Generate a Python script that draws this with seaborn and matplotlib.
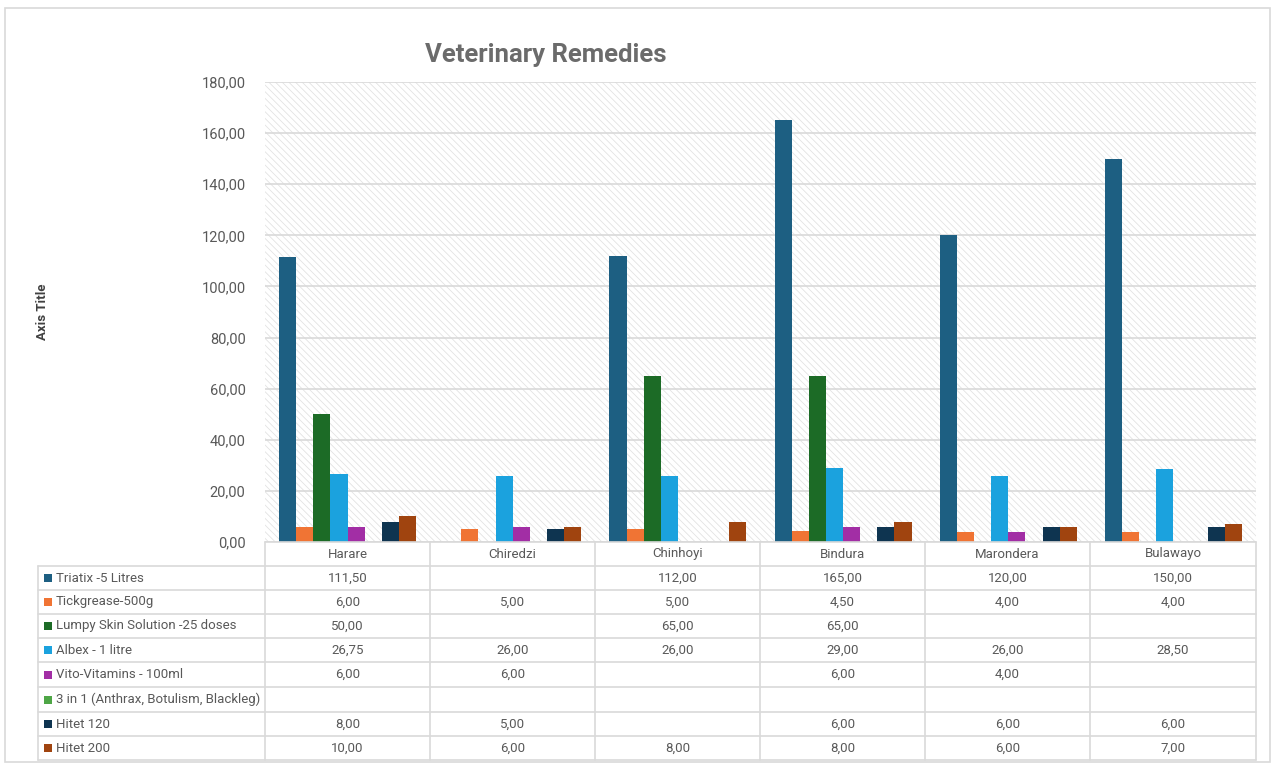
import numpy as np
import pandas as pd
import matplotlib
matplotlib.use("Agg")
import matplotlib.pyplot as plt
import seaborn as sns
from matplotlib.patches import Rectangle
from matplotlib.lines import Line2D
from matplotlib.ticker import FuncFormatter

# ---------------- data ----------------
categories = ["Harare", "Chiredzi", "Chinhoyi", "Bindura", "Marondera", "Bulawayo"]
series_names = [
    "Triatix -5 Litres",
    "Tickgrease-500g",
    "Lumpy Skin Solution -25 doses",
    "Albex - 1 litre",
    "Vito-Vitamins - 100ml",
    "3 in 1 (Anthrax, Botulism, Blackleg)",
    "Hitet 120",
    "Hitet 200",
]
triatix = [111.5, np.nan, 112.0, 165.0, 120.0, 150.0]
tickgrease = [6.0, 5.0, 5.0, 4.5, 4.0, 4.0]
lumpy = [50.0, np.nan, 65.0, 65.0, np.nan, np.nan]
albex = [26.75, 26.0, 26.0, 29.0, 26.0, 28.5]
vito = [6.0, 6.0, np.nan, 6.0, 4.0, np.nan]
three_in_one = [np.nan] * 6
hitet120 = [8.0, 5.0, np.nan, 6.0, 6.0, 6.0]
hitet200 = [10.0, 6.0, 8.0, 8.0, 6.0, 7.0]
all_values = [triatix, tickgrease, lumpy, albex, vito, three_in_one, hitet120, hitet200]
y_ticks = [0, 20, 40, 60, 80, 100, 120, 140, 160, 180]

colors = ["#1d5f82", "#f07434", "#1c6b26", "#1ba2de", "#a22ea5",
          "#4ea646", "#0e3450", "#a0440f"]

rows = []
for s, vals in zip(series_names, all_values):
    for c, v in zip(categories, vals):
        rows.append({"city": c, "series": s, "value": v})
df = pd.DataFrame(rows)

# ---------------- figure ----------------
sns.set_theme(style="white")
plt.rcParams["font.family"] = ["Liberation Sans Narrow", "Roboto", "DejaVu Sans"]
plt.rcParams["hatch.linewidth"] = 0.6
plt.rcParams["hatch.color"] = "#e3e3e3"

W, H = 1274, 764
fig = plt.figure(figsize=(W / 100, H / 100), dpi=100)
fig.patch.set_facecolor("white")

def fx(px):
    return px / W

def fy(py):
    return 1 - py / H

ax_l, ax_r, ax_t, ax_b = 265, 1256, 82, 542
ax = fig.add_axes([fx(ax_l), fy(ax_b), fx(ax_r) - fx(ax_l), fy(ax_t) - fy(ax_b)])
ax.set_facecolor("white")
ax.add_patch(Rectangle((0, 0), 1, 1, transform=ax.transAxes, facecolor="white",
                       hatch="\\\\\\\\\\", edgecolor="#e3e3e3", linewidth=0, zorder=0))

sns.barplot(data=df, x="city", y="value", hue="series", order=categories,
            hue_order=series_names, palette=colors, width=0.83, gap=0,
            errorbar=None, saturation=1, ax=ax, legend=False, zorder=3,
            linewidth=0, edgecolor="none")

ax.set_ylim(0, 180)
ax.set_xlim(-0.5, len(categories) - 0.5)
ax.set_yticks(y_ticks)
ax.yaxis.set_major_formatter(FuncFormatter(lambda v, p: f"{v:.2f}".replace(".", ",")))
ax.tick_params(axis="y", labelsize=10.5, colors="#595959", length=0, pad=14)
ax.set_xticks([])
ax.set_xlabel("")
ax.set_ylabel("")
for sp in ax.spines.values():
    sp.set_visible(False)
for t in y_ticks:
    ax.axhline(t, color="#d9d9d9", linewidth=1.2, zorder=1)

# title and axis title
fig.text(fx(546), fy(55), "Veterinary Remedies", ha="center", va="center",
         fontsize=18.5, fontweight="bold", color="#6b6b6b")
fig.text(fx(42), fy(312), "Axis Title", ha="center", va="center", rotation=90,
         fontsize=9.5, fontweight="bold", color="#404040")

# outer border
fig.add_artist(Rectangle((fx(5), fy(762)), fx(1270) - fx(5), fy(8) - fy(762),
                         transform=fig.transFigure, fill=False,
                         edgecolor="#d9d9d9", linewidth=1.2))

# ---------------- data table ----------------
col_x = [265, 430, 595, 760, 925, 1090, 1256]
leg_x0 = 38
row_y = [542, 566, 590, 614, 638, 662, 687, 712, 736, 760]
line_c = "#d9d9d9"
lw = 1.2

def hline(y, x0, x1):
    fig.add_artist(Line2D([fx(x0), fx(x1)], [fy(y), fy(y)], transform=fig.transFigure,
                          color=line_c, linewidth=lw))

def vline(x, y0, y1):
    fig.add_artist(Line2D([fx(x), fx(x)], [fy(y0), fy(y1)], transform=fig.transFigure,
                          color=line_c, linewidth=lw))

hline(row_y[0], col_x[0], col_x[-1])
for y in row_y[1:]:
    hline(y, leg_x0, col_x[-1])
for x in col_x:
    vline(x, row_y[0], row_y[-1])
vline(leg_x0, row_y[1], row_y[-1])

txt_c = "#595959"
for i, c in enumerate(categories):
    xc = (col_x[i] + col_x[i + 1]) / 2
    fig.text(fx(xc), fy((row_y[0] + row_y[1]) / 2), c, ha="center", va="center",
             fontsize=9.5, color=txt_c)

for r, (s, vals, col) in enumerate(zip(series_names, all_values, colors)):
    yc = (row_y[r + 1] + row_y[r + 2]) / 2
    fig.add_artist(Rectangle((fx(44), fy(yc + 4)), fx(8), 8 / H,
                             transform=fig.transFigure, facecolor=col, edgecolor="none"))
    fig.text(fx(56), fy(yc), s, ha="left", va="center", fontsize=9.5, color=txt_c)
    for i, v in enumerate(vals):
        if not np.isnan(v):
            xc = (col_x[i] + col_x[i + 1]) / 2
            fig.text(fx(xc), fy(yc), f"{v:.2f}".replace(".", ","), ha="center",
                     va="center", fontsize=9.5, color=txt_c)

fig.savefig("out.png", dpi=100, facecolor="white")
